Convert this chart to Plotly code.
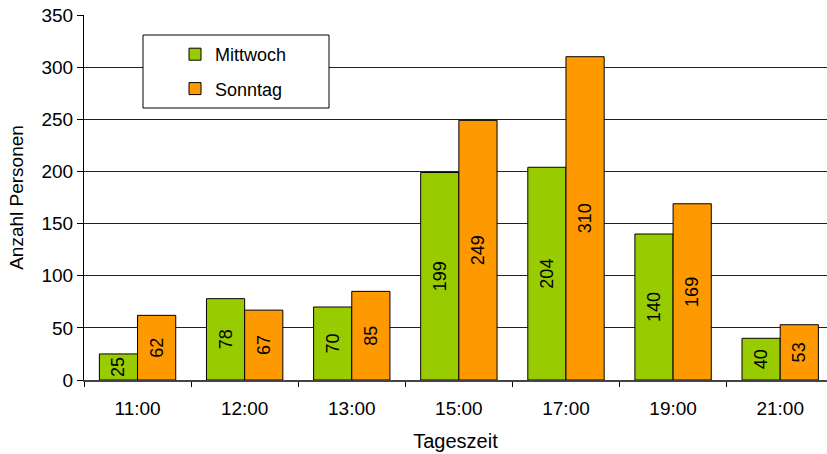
import plotly.graph_objects as go

categories = ["11:00", "12:00", "13:00", "15:00", "17:00", "19:00", "21:00"]
mittwoch = [25, 78, 70, 199, 204, 140, 40]
sonntag = [62, 67, 85, 249, 310, 169, 53]

FONT = "Liberation Sans, Arial, sans-serif"

# plot area in pixels: left 84, right 827, top 15, bottom 380
L, R, T, B = 84, 827, 15, 380
W, H = 827, 454
pw, ph = R - L, B - T

def px(x):
    return (x - L) / pw

def py(y):
    return (B - y) / ph

fig = go.Figure()
common = dict(
    textposition="inside",
    insidetextanchor="middle",
    textangle=-90,
    constraintext="none",
    textfont=dict(family=FONT, size=18, color="black"),
    marker_line=dict(color="black", width=1),
)
fig.add_bar(x=categories, y=mittwoch, name="Mittwoch", text=mittwoch,
            marker_color="#99CC00", legendgroup="a", **common)
fig.add_bar(x=categories, y=sonntag, name="Sonntag", text=sonntag,
            marker_color="#FF9900", legendgroup="b", **common)

# legend frame
fig.add_shape(type="rect", xref="paper", yref="paper",
              x0=px(143), x1=px(329), y0=py(108), y1=py(35),
              fillcolor="white", line=dict(color="black", width=1), layer="above")

fig.update_layout(
    width=W, height=H,
    margin=dict(l=L, r=W - R, t=T, b=H - B, autoexpand=False),
    paper_bgcolor="white", plot_bgcolor="white",
    font=dict(family=FONT, size=18, color="black"),
    barmode="group", bargap=0.287, bargroupgap=0,
    showlegend=True,
    legend=dict(x=px(175), y=py(36), xanchor="left", yanchor="top",
                bgcolor="rgba(0,0,0,0)", borderwidth=0,
                font=dict(family=FONT, size=18, color="black"),
                itemwidth=30, tracegroupgap=8, traceorder="grouped"),
    xaxis=dict(
        range=[-0.5, 6.437], showgrid=False,
        ticks="outside", tickson="boundaries", ticklen=5, tickcolor="black",
        showline=True, linecolor="#444", linewidth=2,
        tickfont=dict(size=19), ticklabelstandoff=10,
        title=dict(text="Tageszeit", font=dict(size=20), standoff=16),
    ),
    yaxis=dict(
        range=[0, 350], dtick=50, showgrid=True, gridcolor="#222", gridwidth=1,
        ticks="outside", ticklen=6, tickcolor="black",
        showline=True, linecolor="black", linewidth=1,
        tickfont=dict(size=19), zeroline=False,
        title=dict(text="Anzahl Personen", font=dict(size=19), standoff=12),
    ),
)

fig.write_html("out.html")
